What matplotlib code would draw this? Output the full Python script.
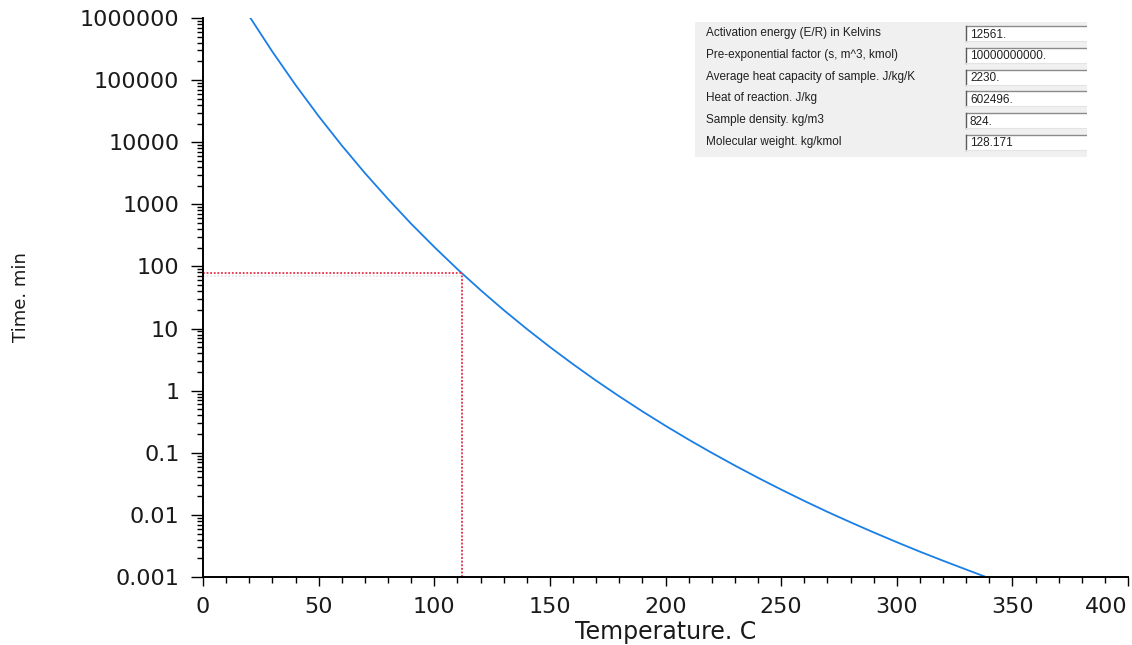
import matplotlib
matplotlib.use('Agg')
import matplotlib.pyplot as plt
import matplotlib.patheffects as pe
from matplotlib.patches import Rectangle
from matplotlib.ticker import FixedLocator, FixedFormatter, LogLocator, MultipleLocator, NullFormatter

# curve (temperature in C, time in min)
temp_c = [20, 30, 40, 50, 60, 70, 80, 90, 100, 110, 120, 130, 140, 150, 160, 170,
          180, 190, 200, 210, 220, 230, 240, 250, 260, 270, 280, 290, 300, 310, 320, 330, 338]
time_min = [1.07e6, 2.87e5, 8.37e4, 2.63e4, 8870, 3190, 1220, 487, 206, 90.6, 41.7, 19.9,
            9.87, 5.05, 2.67, 1.45, 0.811, 0.464, 0.272, 0.163, 0.0999, 0.0623, 0.0396,
            0.0256, 0.0168, 0.0112, 0.00761, 0.00523, 0.00364, 0.00256, 0.00183, 0.00132, 0.00102]

# marked point (red dotted guides)
mark_temp = 111.9
mark_time = 78

x_ticks = [0, 50, 100, 150, 200, 250, 300, 350, 400]
y_ticks = [0.001, 0.01, 0.1, 1, 10, 100, 1000, 10000, 100000, 1000000]
y_tick_labels = ['0.001', '0.01', '0.1', '1', '10', '100', '1000', '10000', '100000', '1000000']

param_names = ['Activation energy (E/R) in Kelvins',
               'Pre-exponential factor (s, m^3, kmol)',
               'Average heat capacity of sample. J/kg/K',
               'Heat of reaction. J/kg',
               'Sample density. kg/m3',
               'Molecular weight. kg/kmol']
param_values = ['12561.', '10000000000.', '2230.', '602496.', '824.', '128.171']

W, H = 1132, 645
fig = plt.figure(figsize=(W / 100, H / 100), dpi=100)
ax = fig.add_axes([203 / W, (H - 577) / H, (1128 - 203) / W, (577 - 18) / H])

ax.plot(temp_c, time_min, color='#1a7ee6', lw=1.3)

shadow = [pe.SimpleLineShadow(offset=(0, -2), shadow_color='#999999', alpha=0.25), pe.Normal()]
ax.plot([0, mark_temp], [mark_time, mark_time], color='#e8304a', lw=1.3,
        linestyle=(0, (1, 1)), path_effects=shadow)
ax.plot([mark_temp, mark_temp], [0.001, mark_time], color='#e8304a', lw=1.3,
        linestyle=(0, (1, 1)), path_effects=shadow)

ax.set_yscale('log')
ax.set_xlim(0, 400)
ax.set_ylim(0.001, 1000000)

ax.yaxis.set_major_locator(FixedLocator(y_ticks))
ax.yaxis.set_major_formatter(FixedFormatter(y_tick_labels))
ax.yaxis.set_minor_locator(LogLocator(base=10, subs=range(2, 10), numticks=20))
ax.yaxis.set_minor_formatter(NullFormatter())
ax.set_xticks(x_ticks)
ax.xaxis.set_minor_locator(MultipleLocator(10))

for side in ['top', 'right']:
    ax.spines[side].set_visible(False)
for side in ['left', 'bottom']:
    ax.spines[side].set_linewidth(1.4)
    ax.spines[side].set_color('black')

ax.tick_params(axis='y', which='major', direction='out', length=9, width=1, pad=8,
               labelsize=16, labelcolor='#1a1a1a')
ax.tick_params(axis='y', which='minor', direction='out', length=4, width=1)
ax.tick_params(axis='x', which='major', direction='out', length=6.5, width=1, pad=8,
               labelsize=16, labelcolor='#1a1a1a')
ax.tick_params(axis='x', which='minor', direction='out', length=4, width=1)

# last x label sits inside the figure edge, like the original
ax.get_xticklabels()[-1].set_horizontalalignment('right')

ax.set_xlabel('Temperature. C', fontsize=17, color='#1a1a1a', labelpad=2)
ax.set_ylabel('Time. min', fontsize=13, color='#1a1a1a', labelpad=36)

# parameter panel, drawn in pixel-like coordinates
pan = fig.add_axes([695 / W, (H - 157) / H, (1087 - 695) / W, (157 - 22) / H])
pan.set_xlim(695, 1087)
pan.set_ylim(157, 22)
pan.set_facecolor('#f0f0f0')
pan.set_xticks([])
pan.set_yticks([])
for s in pan.spines.values():
    s.set_visible(False)

for i, (name, val) in enumerate(zip(param_names, param_values)):
    yc = 33.5 + 21.8 * i
    pan.text(706, yc - 0.5, name, fontsize=8.5, family='Liberation Sans',
             color='#202020', va='center', ha='left')
    pan.add_patch(Rectangle((966, yc - 7.5), 130, 15, facecolor='white', edgecolor='none'))
    pan.plot([966, 1087], [yc - 7.5, yc - 7.5], color='#8a8a8a', lw=1)
    pan.plot([966, 966], [yc - 7.5, yc + 7.5], color='#5a5a5a', lw=1)
    pan.plot([966, 1087], [yc + 7.5, yc + 7.5], color='#e4e4e4', lw=0.8)
    pan.text(970, yc + 1, val, fontsize=8.5, family='Liberation Sans',
             color='#202020', va='center', ha='left')

fig.savefig('out.png', dpi=100, facecolor='white')
